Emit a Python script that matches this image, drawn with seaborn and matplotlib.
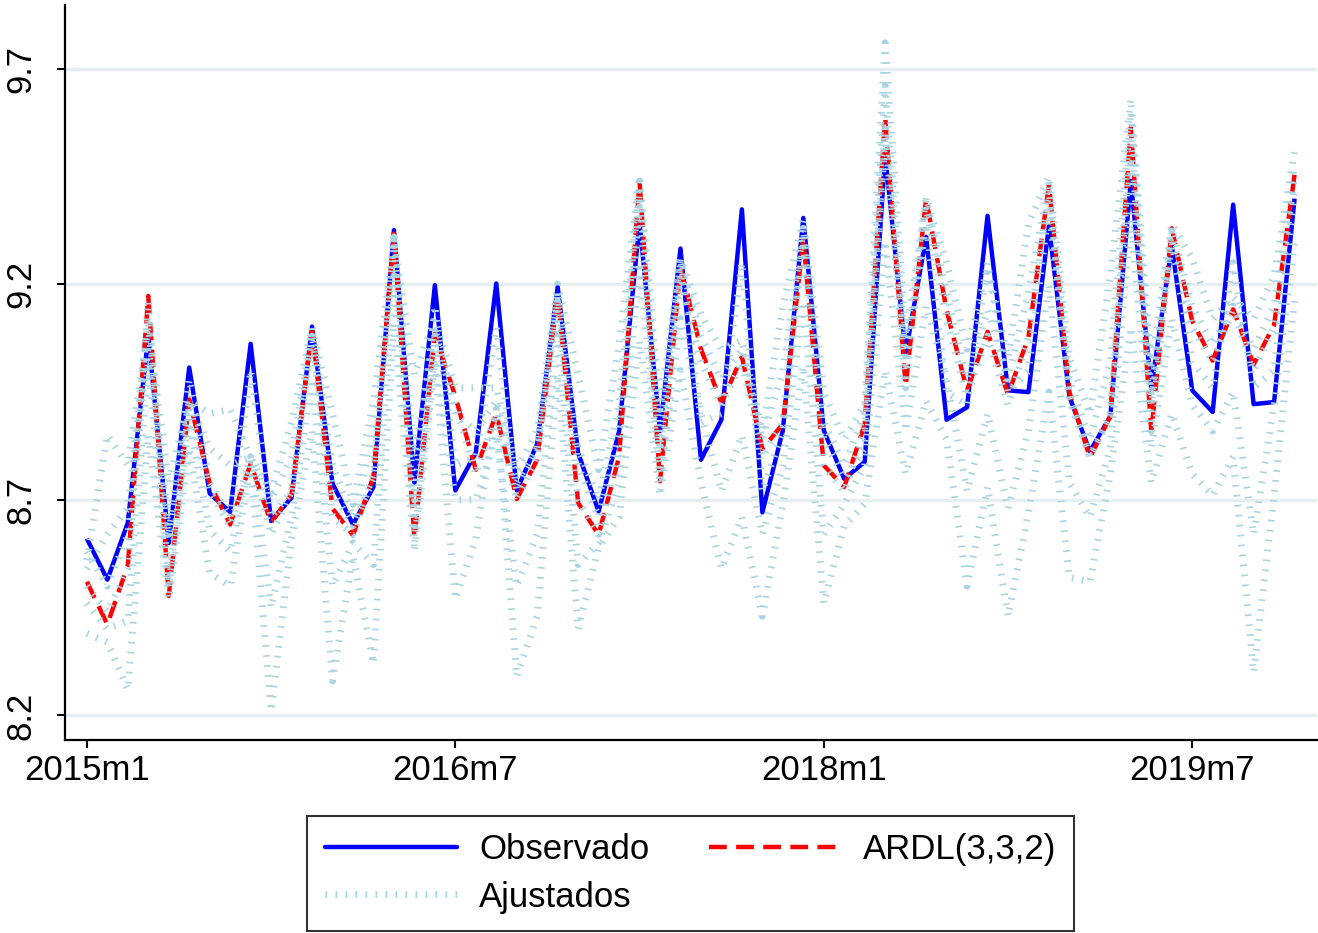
import matplotlib
matplotlib.use("Agg")
import matplotlib.pyplot as plt
import seaborn as sns
from matplotlib.lines import Line2D

# ---------------- data ----------------
month_index = list(range(60))  # 2015m1 .. 2019m12
tick_positions = [0, 18, 36, 54]
tick_labels = ["2015m1", "2016m7", "2018m1", "2019m7"]
y_ticks = [8.2, 8.7, 9.2, 9.7]

observado = [8.61, 8.515, 8.647, 9.08, 8.60, 9.007, 8.715, 8.672, 9.062, 8.651,
             8.705, 9.102, 8.738, 8.643, 8.730, 9.326, 8.74, 9.198, 8.722, 8.809,
             9.202, 8.722, 8.83, 9.194, 8.809, 8.673, 8.859, 9.343, 8.86, 9.283,
             8.793, 8.886, 9.374, 8.671, 8.861, 9.354, 8.861, 8.749, 8.788, 9.50,
             9.04, 9.31, 8.886, 8.915, 9.359, 8.954, 8.95, 9.335, 8.94, 8.812,
             8.894, 9.44, 8.959, 9.289, 8.954, 8.904, 9.385, 8.922, 8.927, 9.399]

ardl = [8.51, 8.411, 8.548, 9.173, 8.477, 8.933, 8.738, 8.643, 8.784, 8.647,
        8.713, 9.094, 8.68, 8.618, 8.755, 9.318, 8.611, 9.085, 8.94, 8.77,
        8.90, 8.702, 8.793, 9.174, 8.693, 8.619, 8.80, 9.438, 8.743, 9.24,
        9.05, 8.925, 9.032, 8.818, 8.876, 9.305, 8.78, 8.73, 8.876, 9.588,
        8.964, 9.398, 9.14, 8.954, 9.09, 8.944, 9.078, 9.431, 8.95, 8.798,
        8.894, 9.564, 8.858, 9.330, 9.115, 9.023, 9.142, 9.014, 9.106, 9.454]

ajust_bajo = [8.39, 8.37, 8.26, 8.85, 8.47, 8.82, 8.53, 8.50, 8.78, 8.21,
              8.61, 8.86, 8.28, 8.57, 8.32, 9.11, 8.58, 9.02, 8.47, 8.61,
              8.91, 8.29, 8.43, 8.99, 8.40, 8.59, 8.66, 9.07, 8.71, 9.00,
              8.74, 8.54, 8.66, 8.43, 8.69, 9.01, 8.46, 8.64, 8.69, 9.00,
              8.76, 8.93, 8.84, 8.50, 8.73, 8.43, 8.67, 8.95, 8.52, 8.51,
              8.76, 9.10, 8.74, 8.90, 8.76, 8.71, 8.80, 8.30, 8.71, 9.17]

ajust_medio_bajo = [8.46, 8.40, 8.42, 9.02, 8.50, 8.88, 8.63, 8.58, 8.80, 8.45,
                    8.66, 8.98, 8.50, 8.60, 8.55, 9.22, 8.60, 9.05, 8.70, 8.70,
                    8.85, 8.50, 8.62, 9.08, 8.55, 8.60, 8.74, 9.25, 8.74, 9.12,
                    8.90, 8.72, 8.85, 8.62, 8.78, 9.16, 8.62, 8.69, 8.78, 9.30,
                    8.86, 9.15, 8.98, 8.72, 8.90, 8.68, 8.86, 9.20, 8.74, 8.66,
                    8.82, 9.35, 8.82, 9.12, 8.92, 8.86, 8.95, 8.62, 8.92, 9.30]

ajust_cerca_ardl = [8.50, 8.44, 8.54, 9.16, 8.50, 8.92, 8.72, 8.64, 8.80, 8.62,
                    8.72, 9.08, 8.66, 8.62, 8.76, 9.32, 8.64, 9.08, 8.92, 8.76,
                    8.90, 8.70, 8.80, 9.16, 8.70, 8.62, 8.82, 9.42, 8.76, 9.22,
                    9.02, 8.92, 9.02, 8.80, 8.88, 9.30, 8.78, 8.72, 8.86, 9.56,
                    8.96, 9.38, 9.12, 8.94, 9.08, 8.92, 9.08, 9.42, 8.93, 8.80,
                    8.89, 9.55, 8.86, 9.32, 9.10, 9.02, 9.14, 9.00, 9.10, 9.45]

ajust_cerca_obs = [8.58, 8.50, 8.62, 9.06, 8.62, 8.98, 8.74, 8.66, 9.00, 8.66,
                   8.72, 9.08, 8.72, 8.64, 8.75, 9.30, 8.70, 9.15, 8.78, 8.80,
                   9.10, 8.72, 8.82, 9.18, 8.78, 8.66, 8.86, 9.38, 8.82, 9.26,
                   8.88, 8.90, 9.25, 8.72, 8.86, 9.33, 8.84, 8.75, 8.82, 9.55,
                   9.00, 9.34, 8.95, 8.92, 9.25, 8.95, 9.00, 9.38, 8.94, 8.80,
                   8.90, 9.48, 8.92, 9.30, 9.02, 8.96, 9.25, 8.96, 9.00, 9.42]

ajust_medio_alto = [8.54, 8.62, 8.68, 9.12, 8.62, 8.93, 8.82, 8.78, 8.80, 8.70,
                    8.80, 9.10, 8.78, 8.66, 8.84, 9.31, 8.80, 9.10, 8.90, 8.86,
                    8.93, 8.74, 8.82, 9.18, 8.82, 8.70, 8.92, 9.44, 8.82, 9.25,
                    9.08, 8.98, 9.05, 8.84, 9.00, 9.33, 8.88, 8.78, 8.90, 9.66,
                    9.02, 9.40, 9.18, 8.98, 9.14, 8.98, 9.18, 9.44, 8.98, 8.84,
                    9.02, 9.60, 8.94, 9.33, 9.15, 9.06, 9.15, 9.05, 9.15, 9.48]

ajust_alto = [8.56, 8.85, 8.78, 9.10, 8.74, 8.93, 8.90, 8.91, 8.80, 8.72,
              8.88, 9.10, 8.90, 8.69, 8.93, 9.30, 8.99, 9.12, 8.96, 8.96,
              8.96, 8.77, 8.86, 9.20, 8.99, 8.77, 9.06, 9.45, 8.91, 9.26,
              9.13, 9.05, 9.07, 8.86, 9.15, 9.35, 8.95, 8.84, 8.92, 9.76,
              9.08, 9.40, 9.25, 9.05, 9.24, 9.03, 9.34, 9.45, 9.03, 8.90,
              9.22, 9.63, 9.01, 9.34, 9.26, 9.12, 9.17, 9.12, 9.22, 9.51]

ajustados = [ajust_bajo, ajust_medio_bajo, ajust_cerca_ardl, ajust_cerca_obs,
             ajust_medio_alto, ajust_alto]

# ---------------- style ----------------
sns.set_theme(style="white")
plt.rcParams['font.family'] = ['Liberation Sans', 'DejaVu Sans']
plt.rcParams['text.color'] = 'black'
plt.rcParams['xtick.color'] = 'black'
plt.rcParams['ytick.color'] = 'black'
plt.rcParams['axes.labelcolor'] = 'black'

BLUE = "#0000ff"
RED = "#ff0000"
LTBLUE = "#a9d4e2"
GRID = "#e6eef0"

fig = plt.figure(figsize=(13.18, 9.33), dpi=100)
ax = fig.add_axes([0.0493, 0.2069, 0.9500, 0.7877])

AJ_LW = 5.0
AJ_DASH = (0.24, 1.2)

sns.lineplot(x=month_index, y=observado, ax=ax, color=BLUE, lw=3.2, zorder=2)
sns.lineplot(x=month_index, y=ardl, ax=ax, color=RED, lw=3.2, dashes=(4.0, 2.1), zorder=3)
for s in ajustados:
    sns.lineplot(x=month_index, y=s, ax=ax, color=LTBLUE, lw=AJ_LW,
                 dashes=AJ_DASH, zorder=4)
for line in ax.get_lines():
    line.set_dash_capstyle('butt')
    line.set_solid_capstyle('butt')

ax.set_xlim(-1.07, 60.1)
ax.set_ylim(8.143, 9.848)
ax.set_yticks(y_ticks)
ax.set_yticklabels([f"{v:.1f}" for v in y_ticks], rotation=90, va='center')
ax.set_xticks(tick_positions)
ax.set_xticklabels(tick_labels)
ax.tick_params(axis='both', labelsize=25, length=6, width=1.5, colors='black',
               direction='out', left=True, bottom=True)
ax.tick_params(axis='y', pad=14)
ax.tick_params(axis='x', pad=4)
ax.grid(axis='y', color=GRID, lw=2.5, zorder=0)
ax.grid(axis='x', visible=False)
ax.set_axisbelow(True)
for side in ['top', 'right']:
    ax.spines[side].set_visible(False)
for side in ['left', 'bottom']:
    ax.spines[side].set_color('black')
    ax.spines[side].set_linewidth(1.6)
ax.set_xlabel("")
ax.set_ylabel("")

handles = [
    Line2D([], [], color=BLUE, lw=3.2),
    Line2D([], [], color=LTBLUE, lw=AJ_LW, dashes=AJ_DASH, dash_capstyle='butt'),
    Line2D([], [], color=RED, lw=3.2, dashes=(4.0, 2.1), dash_capstyle='butt'),
]
labels = ["Observado", "Ajustados", "ARDL(3,3,2)"]
leg = fig.legend(handles, labels, loc='center', bbox_to_anchor=(0.524, 0.064),
                 ncol=2, fontsize=25, frameon=True, fancybox=False,
                 edgecolor='black', handlelength=3.8, handletextpad=0.65,
                 columnspacing=1.7, borderpad=0.5, labelspacing=0.42)
leg.get_frame().set_linewidth(1.5)
for t in leg.get_texts():
    t.set_color('black')

fig.savefig("out.png", dpi=100)
